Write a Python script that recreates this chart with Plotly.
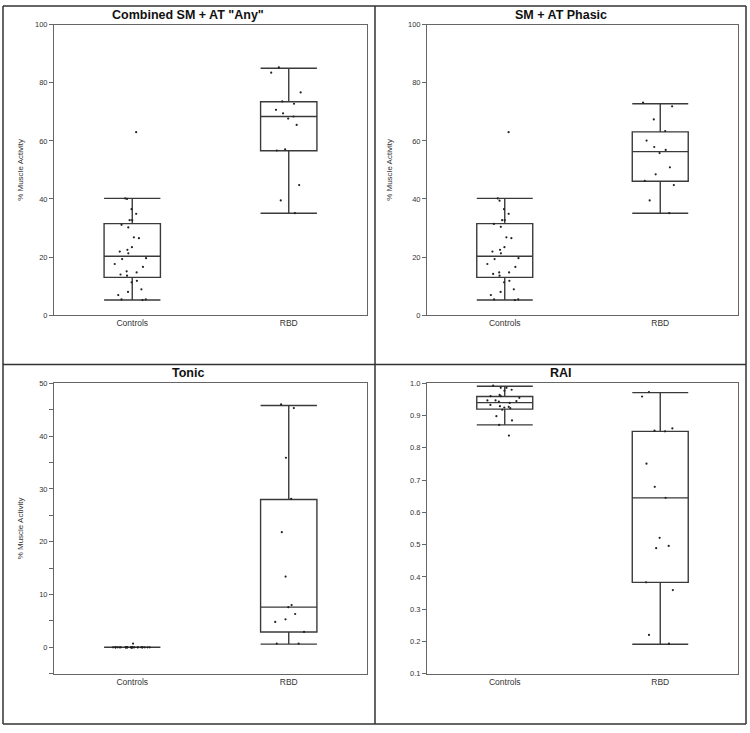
import plotly.graph_objects as go

# ---------------- data ----------------
groups = ["Controls", "RBD"]
titles = ['Combined SM + AT "Any"', "SM + AT Phasic", "Tonic", "RAI"]
ytitle = "% Muscle Activity"

# Combined SM + AT "Any"
any_ctrl = [63.0, 40.2, 40.0, 36.5, 34.9, 32.7, 32.7, 31.1, 30.2, 26.8, 26.5, 23.4, 22.5,
            21.9, 21.3, 19.6, 19.3, 17.6, 16.6, 15.1, 14.7, 14.0, 13.6, 11.8, 11.3, 8.9,
            8.0, 6.9, 5.4, 5.4, 5.2]
any_rbd = [85.3, 83.5, 76.7, 73.6, 72.8, 70.7, 69.5, 68.4, 67.7, 65.5, 57.1, 56.7, 44.8,
           39.5, 35.1]
# stats: [lowerfence, q1, median, q3, upperfence]
any_ctrl_stats = [5.2, 13.0, 20.3, 31.5, 40.2]
any_rbd_stats = [35.1, 56.6, 68.4, 73.5, 85.0]

# SM + AT Phasic
pha_ctrl = [63.0, 40.2, 39.4, 36.5, 34.9, 32.7, 32.7, 31.4, 30.4, 26.8, 26.5, 23.4, 22.5,
            21.9, 21.3, 19.6, 19.3, 17.6, 16.6, 14.7, 14.7, 14.2, 13.6, 11.8, 11.3, 8.9,
            8.0, 6.9, 5.4, 5.4, 5.2]
pha_rbd = [73.2, 71.9, 67.4, 63.4, 60.1, 57.9, 56.9, 55.8, 50.9, 48.5, 46.2, 44.8, 39.5, 35.1]
pha_ctrl_stats = [5.2, 13.0, 20.3, 31.5, 40.2]
pha_rbd_stats = [35.1, 46.1, 56.3, 63.1, 72.8]

# Tonic
ton_ctrl = [0.7, 0.0, 0.0, 0.0, 0.0, 0.0, 0.0, 0.0, 0.0, 0.0, 0.0, 0.0, 0.0, 0.0, 0.0, 0.0,
            0.0, 0.0, 0.0, 0.0, 0.0, 0.0, 0.0, 0.0, 0.0, 0.0, 0.0, 0.0, 0.0, 0.0, 0.0]
ton_rbd = [46.0, 45.3, 35.9, 28.1, 21.8, 13.4, 8.0, 7.6, 6.3, 5.3, 4.8, 2.9, 0.7, 0.7]
ton_ctrl_stats = [0.0, 0.0, 0.0, 0.0, 0.0]
ton_rbd_stats = [0.6, 2.9, 7.6, 28.0, 45.8]

# RAI
rai_ctrl = [0.993, 0.986, 0.986, 0.980, 0.977, 0.964, 0.960, 0.960, 0.955, 0.947, 0.947,
            0.945, 0.943, 0.939, 0.933, 0.929, 0.927, 0.925, 0.923, 0.918, 0.898, 0.885,
            0.871, 0.838]
rai_rbd = [0.973, 0.959, 0.860, 0.851, 0.853, 0.751, 0.679, 0.645, 0.521, 0.496, 0.489,
           0.383, 0.359, 0.220, 0.193]
rai_ctrl_stats = [0.871, 0.920, 0.940, 0.959, 0.991]
rai_rbd_stats = [0.191, 0.383, 0.645, 0.851, 0.971]

panels = [
    (any_ctrl, any_rbd, any_ctrl_stats, any_rbd_stats),
    (pha_ctrl, pha_rbd, pha_ctrl_stats, pha_rbd_stats),
    (ton_ctrl, ton_rbd, ton_ctrl_stats, ton_rbd_stats),
    (rai_ctrl, rai_rbd, rai_ctrl_stats, rai_rbd_stats),
]

# ---------------- layout geometry ----------------
W, H = 750, 733
def fx(px):
    return px / W
def fy(px):
    return 1 - px / H

xdoms = [[fx(54), fx(367)], [fx(427), fx(738)], [fx(54), fx(367)], [fx(427), fx(738)]]
ydoms = [[fy(315), fy(21)], [fy(315), fy(21)], [fy(678), fy(384)], [fy(678), fy(384)]]
yranges = [[0, 100], [0, 100], [-5, 50], [0.1, 1.0]]
ydticks = [20, 20, 10, 0.1]
standoffs = [10, 14, 14]
title_pos = [(fx(188), fy(11)), (fx(561), fy(11)), (fx(188), fy(374)), (fx(561), fy(374))]

FONT = "Liberation Sans, Arial, sans-serif"
TFONT = "Liberation Sans, Arial, sans-serif"
LINE = "#3a3a3a"
BOXW = 0.36

fig = go.Figure()
for i, (pc, pr, sc, sr) in enumerate(panels):
    xa = "x" if i == 0 else f"x{i+1}"
    ya = "y" if i == 0 else f"y{i+1}"
    for g, pts, st in ((groups[0], pc, sc), (groups[1], pr, sr)):
        fig.add_trace(go.Box(
            x=[g], lowerfence=[st[0]], q1=[st[1]], median=[st[2]], q3=[st[3]],
            upperfence=[st[4]], width=BOXW, whiskerwidth=1,
            line=dict(color=LINE, width=1.4), fillcolor="rgba(0,0,0,0)",
            boxpoints=False, xaxis=xa, yaxis=ya, showlegend=False, hoverinfo="skip"))
        fig.add_trace(go.Box(
            x=[g] * len(pts), y=pts, width=BOXW, boxpoints="all", jitter=0.7, pointpos=0,
            line=dict(color="rgba(0,0,0,0)", width=0), fillcolor="rgba(0,0,0,0)",
            marker=dict(color="#222", size=2.2), xaxis=xa, yaxis=ya, showlegend=False,
            hoveron="points"))

layout = dict(
    width=W, height=H, margin=dict(l=0, r=0, t=0, b=0),
    paper_bgcolor="white", plot_bgcolor="white", boxmode="overlay",
    font=dict(family=FONT, size=8, color="#333"),
)
for i in range(4):
    sfx = "" if i == 0 else str(i + 1)
    layout["xaxis" + sfx] = dict(
        domain=xdoms[i], anchor="y" + sfx, type="category",
        categoryorder="array", categoryarray=groups, range=[-0.5, 1.5],
        showline=True, mirror=True, linecolor="#666", linewidth=1, ticks="",
        showgrid=False, zeroline=False, tickfont=dict(size=8.5, color="#333"))
    ya = dict(
        domain=ydoms[i], anchor="x" + sfx, range=yranges[i], dtick=ydticks[i],
        tick0=0, showline=True, mirror=True, linecolor="#666", linewidth=1,
        ticks="outside", ticklen=4, tickcolor="#666", showgrid=False, zeroline=False,
        tickfont=dict(size=7.5, color="#333"))
    if i == 2:
        ya["minor"] = dict(dtick=5, tick0=0, ticks="outside", ticklen=4, tickcolor="#666")
    if i == 3:
        ya["tickformat"] = ".1f"
        ya["tick0"] = 0.1
    if i < 3:
        ya["title"] = dict(text=ytitle, font=dict(size=8, color="#333"), standoff=standoffs[i])
    layout["yaxis" + sfx] = ya
fig.update_layout(**layout)

for i, t in enumerate(titles):
    fig.add_annotation(x=title_pos[i][0], y=title_pos[i][1], xref="paper", yref="paper",
                       text=f"<b>{t}</b>", showarrow=False, xanchor="center", yanchor="middle",
                       font=dict(family=TFONT, size=12.5, color="#111"))

# panel frame lines
for (x0, y0, x1, y1) in [(3, 2, 746, 2), (3, 729, 746, 729), (3, 2, 3, 729),
                         (746, 2, 746, 729), (375, 2, 375, 729), (3, 365, 746, 365)]:
    fig.add_shape(type="line", xref="paper", yref="paper",
                  x0=fx(x0), y0=fy(y0), x1=fx(x1), y1=fy(y1),
                  line=dict(color="#333", width=1.5))

fig.write_html("out.html", config={"displayModeBar": False},
               post_script="document.body.style.margin='0';")
